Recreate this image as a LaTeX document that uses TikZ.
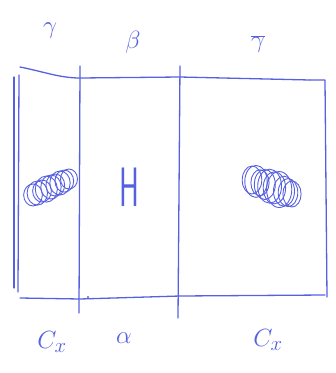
\documentclass[tikz,border=0pt]{standalone}
\usetikzlibrary{calc}
\definecolor{pen}{rgb}{0.34,0.38,0.88}
\begin{document}
\begin{tikzpicture}[x=1pt,y=-1pt,
  ink/.style={draw=pen,line width=1.3pt,line cap=round,line join=round},
  lbl/.style={text=pen,font=\fontsize{28}{28}\selectfont,inner sep=0pt},
  scrib/.style={draw=pen,line width=0.9pt}]
\useasboundingbox (0,0) rectangle (336,373);
% frame
\draw[ink] (20,67) .. controls (45,72) and (60,78) .. (80,78) -- (180,77) -- (310,80);
\draw[ink] (20,298) -- (80,299) -- (180,296) -- (325,295);
\draw[ink] (14,77) -- (14,288);
\draw[ink] (19,75) -- (18,292);
\draw[ink] (80,66) -- (79,313);
\draw[ink] (180,66) -- (178,318);
\draw[ink] (310,80) -- (325,80) -- (327,297);
\fill[pen] (88,297) circle (1.2pt);
% scribbles
\foreach \t/\r in {0/11,0.12/12,0.25/11,0.37/13,0.5/12,0.62/11,0.75/12,0.87/11,1/10}{
  \draw[scrib] ($(33,195)!\t!(69,179)$) ellipse [x radius=0.85*\r, y radius=\r];
}
\foreach \t/\r in {0/14,0.1/16,0.2/13,0.32/15,0.44/17,0.56/16,0.68/18,0.8/15,0.9/14,1/13}{
  \draw[scrib] ($(252,180)!\t!(292,194)$) ellipse [x radius=0.7*\r, y radius=\r];
}
% labels
\node[lbl] (g) at (50,31) {$\gamma$};
\node[lbl] (b) at (133,42) {$\beta$};
\node[lbl] (gb) at (258,44) {$\overline{\gamma}$};
\node[lbl,font=\fontsize{30}{30}\selectfont\sffamily] (h) at (129,187) {\scalebox{1}[1.85]{H}};
\node[lbl] (c1) at (52,342) {$C_x$};
\node[lbl] (a) at (124,338) {$\alpha$};
\node[lbl] (c2) at (268,340) {$C_x$};
\end{tikzpicture}
\end{document}
